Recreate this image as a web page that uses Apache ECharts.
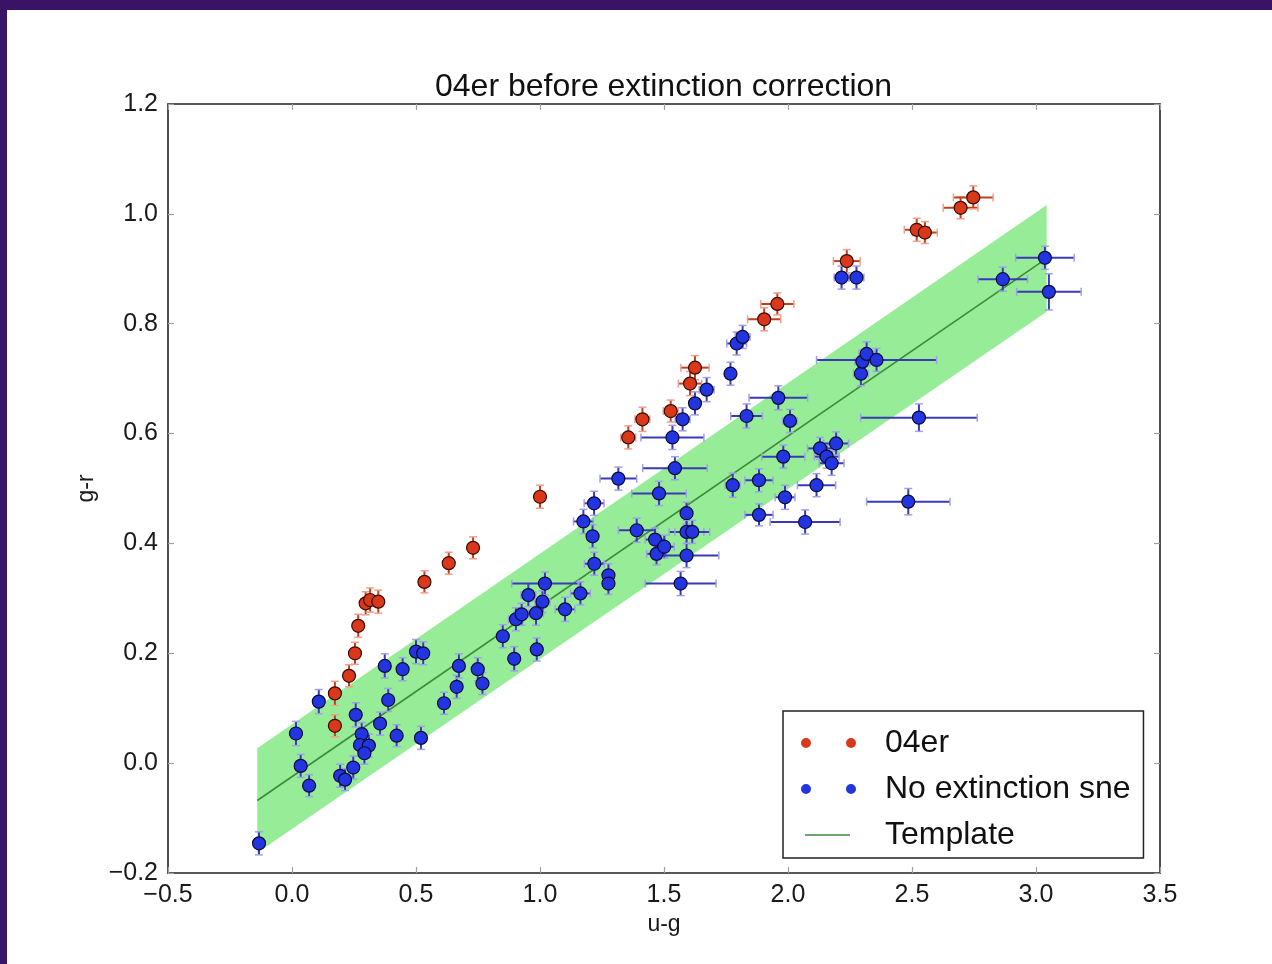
<!DOCTYPE html>
<html>
<head>
<meta charset="utf-8">
<script src="https://cdn.jsdelivr.net/npm/echarts@6/dist/echarts.min.js"></script>
<style>
  html, body { margin: 0; padding: 0; width: 1272px; height: 964px; background: #3a1266; overflow: hidden; }
  #chart { position: absolute; left: 7px; top: 10px; width: 1265px; height: 954px; background: #ffffff; }
</style>
</head>
<body>
<div id="chart"></div>
<script>
// ---- data ----
const chartTitle = '04er before extinction correction';
const xName = 'u-g';
const yName = 'g-r';
const seriesNames = ['04er', 'No extinction sne', 'Template'];

// 04er (red) points: u-g, g-r and their errors
const redU = [0.173, 0.173, 0.230, 0.254, 0.267, 0.297, 0.315, 0.348, 0.534, 0.632, 0.730, 1.000,
              1.356, 1.413, 1.527, 1.605, 1.625, 1.904, 1.957, 2.237, 2.519, 2.552, 2.696, 2.747];
const redG = [0.068, 0.127, 0.159, 0.200, 0.250, 0.291, 0.297, 0.294, 0.330, 0.364, 0.392, 0.485,
              0.593, 0.626, 0.641, 0.691, 0.720, 0.808, 0.836, 0.914, 0.971, 0.966, 1.011, 1.030];
const redUErr = [0.010, 0.010, 0.010, 0.010, 0.010, 0.015, 0.015, 0.020, 0.015, 0.015, 0.015, 0.020,
                 0.030, 0.030, 0.030, 0.047, 0.057, 0.067, 0.067, 0.054, 0.050, 0.050, 0.070, 0.080];
const redGErr = [0.020, 0.022, 0.020, 0.020, 0.021, 0.021, 0.022, 0.021, 0.020, 0.020, 0.020, 0.021,
                 0.021, 0.022, 0.020, 0.022, 0.022, 0.021, 0.020, 0.021, 0.021, 0.020, 0.020, 0.021];

// No extinction SNe (blue) points
const blueU = [
  -0.133, 0.016, 0.035, 0.069, 0.108, 0.194, 0.214, 0.247, 0.257, 0.281,
   0.274, 0.310, 0.292, 0.355, 0.374, 0.388, 0.422, 0.446, 0.500, 0.529,
   0.520, 0.613, 0.664, 0.673, 0.749, 0.768, 0.850, 0.896, 0.903, 0.926,
   0.953, 0.984, 0.987, 1.010, 1.020, 1.101, 1.163, 1.175, 1.212, 1.218,
   1.219, 1.276, 1.276, 1.316, 1.390, 1.464, 1.470, 1.480, 1.501, 1.534,
   1.544, 1.567, 1.575, 1.591, 1.591, 1.614, 1.591, 1.625, 1.672, 1.768,
   1.777, 1.793, 1.817, 1.833, 1.883, 1.883, 1.961, 1.981, 1.988, 2.008,
   2.069, 2.115, 2.129, 2.156, 2.176, 2.194, 2.216, 2.276, 2.294, 2.300,
   2.317, 2.357, 2.485, 2.528, 2.866, 3.036, 3.052];
const blueG = [
  -0.146, 0.054, -0.005, -0.041, 0.112, -0.023, -0.030, -0.008, 0.088, 0.053,
   0.033, 0.032, 0.018, 0.072, 0.177, 0.115, 0.050, 0.171, 0.203, 0.200,
   0.046, 0.109, 0.139, 0.177, 0.171, 0.145, 0.231, 0.190, 0.262, 0.271,
   0.306, 0.273, 0.207, 0.294, 0.327, 0.280, 0.309, 0.440, 0.413, 0.473,
   0.363, 0.342, 0.327, 0.518, 0.424, 0.407, 0.381, 0.491, 0.394, 0.593,
   0.537, 0.327, 0.626, 0.455, 0.421, 0.421, 0.378, 0.655, 0.680, 0.709,
   0.506, 0.764, 0.776, 0.632, 0.515, 0.452, 0.665, 0.558, 0.484, 0.623,
   0.439, 0.506, 0.573, 0.558, 0.546, 0.582, 0.884, 0.884, 0.709, 0.731,
   0.745, 0.734, 0.476, 0.629, 0.881, 0.920, 0.858];
const blueUErr = [
  0.020, 0.020, 0.020, 0.020, 0.020, 0.020, 0.020, 0.020, 0.020, 0.020,
  0.020, 0.020, 0.020, 0.020, 0.020, 0.020, 0.020, 0.020, 0.020, 0.020,
  0.020, 0.020, 0.020, 0.020, 0.020, 0.020, 0.020, 0.020, 0.030, 0.030,
  0.030, 0.030, 0.020, 0.030, 0.134, 0.040, 0.040, 0.040, 0.020, 0.040,
  0.040, 0.020, 0.020, 0.074, 0.074, 0.040, 0.040, 0.110, 0.040, 0.127,
  0.130, 0.143, 0.030, 0.020, 0.070, 0.070, 0.130, 0.020, 0.030, 0.020,
  0.030, 0.040, 0.030, 0.064, 0.057, 0.057, 0.118, 0.087, 0.040, 0.030,
  0.141, 0.077, 0.050, 0.050, 0.050, 0.050, 0.030, 0.030, 0.030, 0.030,
  0.030, 0.242, 0.168, 0.235, 0.100, 0.118, 0.130];
const blueGErr = [
  0.021, 0.022, 0.021, 0.020, 0.022, 0.021, 0.020, 0.021, 0.022, 0.021,
  0.020, 0.021, 0.020, 0.021, 0.022, 0.021, 0.020, 0.021, 0.022, 0.021,
  0.021, 0.020, 0.021, 0.022, 0.021, 0.020, 0.021, 0.022, 0.021, 0.020,
  0.021, 0.022, 0.021, 0.020, 0.021, 0.022, 0.021, 0.022, 0.021, 0.022,
  0.021, 0.021, 0.020, 0.021, 0.022, 0.021, 0.020, 0.022, 0.021, 0.022,
  0.021, 0.022, 0.021, 0.020, 0.021, 0.021, 0.022, 0.021, 0.022, 0.021,
  0.022, 0.021, 0.021, 0.022, 0.021, 0.020, 0.022, 0.021, 0.022, 0.021,
  0.022, 0.021, 0.020, 0.021, 0.022, 0.021, 0.021, 0.021, 0.022, 0.021,
  0.022, 0.021, 0.024, 0.025, 0.022, 0.021, 0.033];

// Template line and its band
const templateU = [-0.140, 3.043];
const templateG = [-0.068, 0.919];
const bandU = [-0.140, 3.043];
const bandLow = [-0.163, 0.822];
const bandHigh = [0.027, 1.016];

// axis ticks
const xMin = -0.5, xMax = 3.5, xStep = 0.5;
const yMin = -0.2, yMax = 1.2, yStep = 0.2;

// ---- chart ----
const FONT = '"Liberation Sans", Arial, Helvetica, sans-serif';
const chart = echarts.init(document.getElementById('chart'), null, { renderer: 'canvas' });

function fmt(v) {
  const s = Math.abs(v).toFixed(1);
  return (v < -1e-9 ? '\u2212' : '') + s;
}

function errRenderer(barColor, capColor) {
  return function (params, api) {
    const u = api.value(0), g = api.value(1), ue = api.value(2), ge = api.value(3);
    const L = api.coord([u - ue, g]), R = api.coord([u + ue, g]);
    const T = api.coord([u, g + ge]), B = api.coord([u, g - ge]);
    const c = 4;
    const s = { stroke: barColor, lineWidth: 2 };
    const cs = { stroke: capColor, lineWidth: 1.5 };
    return {
      type: 'group',
      children: [
        { type: 'line', shape: { x1: L[0], y1: L[1], x2: R[0], y2: R[1] }, style: s },
        { type: 'line', shape: { x1: T[0], y1: T[1], x2: B[0], y2: B[1] }, style: s },
        { type: 'line', shape: { x1: L[0], y1: L[1] - c, x2: L[0], y2: L[1] + c }, style: cs },
        { type: 'line', shape: { x1: R[0], y1: R[1] - c, x2: R[0], y2: R[1] + c }, style: cs },
        { type: 'line', shape: { x1: T[0] - c, y1: T[1], x2: T[0] + c, y2: T[1] }, style: cs },
        { type: 'line', shape: { x1: B[0] - c, y1: B[1], x2: B[0] + c, y2: B[1] }, style: cs }
      ]
    };
  };
}

function bandRenderer(params, api) {
  if (params.dataIndex !== 0) return null;
  const pts = [];
  for (let i = 0; i < bandU.length; i++) pts.push(api.coord([bandU[i], bandLow[i]]));
  for (let i = bandU.length - 1; i >= 0; i--) pts.push(api.coord([bandU[i], bandHigh[i]]));
  return { type: 'polygon', shape: { points: pts }, style: { fill: '#97ec97', stroke: null } };
}

const axisCommon = {
  type: 'value',
  splitLine: { show: false },
  axisLine: { show: true, onZero: false, lineStyle: { color: '#222', width: 1.6 } },
  axisTick: { show: true, inside: true, length: 6, lineStyle: { color: '#a0a0a0', width: 1.2 } }
};
const labelStyle = { color: '#1a1a1a', fontSize: 25, fontFamily: FONT, formatter: fmt };

const dotIcon = 'path://M0,5a5,5 0 1,0 10,0a5,5 0 1,0 -10,0ZM45,5a5,5 0 1,0 10,0a5,5 0 1,0 -10,0Z';
const lineIcon = 'path://M0,0M4,4.3L49,4.3L49,5.7L4,5.7ZM55,10';

const option = {
  animation: false,
  backgroundColor: '#ffffff',
  title: {
    text: chartTitle,
    left: 423,
    top: 56,
    textStyle: { fontSize: 32, fontWeight: 'normal', color: '#111', fontFamily: FONT }
  },
  grid: { left: 161, top: 94, right: 112, bottom: 91, containLabel: false },
  legend: {
    orient: 'vertical',
    left: 776,
    top: 701,
    padding: [14, 13, 5, 18],
    borderColor: '#222',
    borderWidth: 1.5,
    backgroundColor: '#ffffff',
    itemWidth: 55,
    itemHeight: 11,
    itemGap: 10,
    selectedMode: false,
    textStyle: { fontSize: 32, color: '#111', fontFamily: FONT, lineHeight: 36, padding: [0, 0, 0, 24] },
    data: [
      { name: seriesNames[0], icon: dotIcon, itemStyle: { color: '#d9381a', borderWidth: 0 } },
      { name: seriesNames[1], icon: dotIcon, itemStyle: { color: '#2235e0', borderWidth: 0 } },
      { name: seriesNames[2], icon: lineIcon, itemStyle: { color: '#3d8a3d', borderWidth: 0 } }
    ],
    z: 10
  },
  xAxis: [
    Object.assign({}, axisCommon, {
      min: xMin, max: xMax, interval: xStep, position: 'bottom',
      name: xName, nameLocation: 'middle', nameGap: 40,
      nameTextStyle: { fontSize: 23, color: '#1a1a1a', fontFamily: FONT },
      axisLabel: Object.assign({ margin: 10 }, labelStyle)
    }),
    Object.assign({}, axisCommon, {
      min: xMin, max: xMax, interval: xStep, position: 'top',
      axisLabel: { show: false }
    })
  ],
  yAxis: [
    Object.assign({}, axisCommon, {
      min: yMin, max: yMax, interval: yStep, position: 'left',
      name: yName, nameLocation: 'middle', nameGap: 64, nameRotate: 90,
      nameTextStyle: { fontSize: 23, color: '#1a1a1a', fontFamily: FONT },
      axisLabel: Object.assign({ margin: 10 }, labelStyle)
    }),
    Object.assign({}, axisCommon, {
      min: yMin, max: yMax, interval: yStep, position: 'right',
      axisLabel: { show: false }
    })
  ],
  series: [
    {
      name: 'band', type: 'custom', silent: true, z: 1,
      renderItem: bandRenderer,
      data: bandU.map((u, i) => [u, bandLow[i], bandHigh[i]]),
      encode: { x: 0, y: [1, 2] }
    },
    {
      name: seriesNames[2], type: 'line', z: 2, showSymbol: false, symbol: 'none',
      lineStyle: { color: '#3d8a3d', width: 1.6 }, itemStyle: { color: '#3d8a3d' },
      data: templateU.map((u, i) => [u, templateG[i]])
    },
    {
      name: 'blueErr', type: 'custom', z: 3, silent: true,
      renderItem: errRenderer('#3a3ab8', '#a0a0ea'),
      data: blueU.map((u, i) => [u, blueG[i], blueUErr[i], blueGErr[i]]),
      encode: { x: 0, y: 1 }
    },
    {
      name: 'redErr', type: 'custom', z: 3, silent: true,
      renderItem: errRenderer('#c2401e', '#f0a08c'),
      data: redU.map((u, i) => [u, redG[i], redUErr[i], redGErr[i]]),
      encode: { x: 0, y: 1 }
    },
    {
      name: seriesNames[1], type: 'scatter', z: 4, symbolSize: 13,
      itemStyle: { color: '#2235e0', borderColor: '#0b0b3a', borderWidth: 1.2, opacity: 1 },
      data: blueU.map((u, i) => [u, blueG[i]])
    },
    {
      name: seriesNames[0], type: 'scatter', z: 4, symbolSize: 13,
      itemStyle: { color: '#d9381a', borderColor: '#3a0a00', borderWidth: 1.2, opacity: 1 },
      data: redU.map((u, i) => [u, redG[i]])
    }
  ]
};
chart.setOption(option);
</script>
</body>
</html>
